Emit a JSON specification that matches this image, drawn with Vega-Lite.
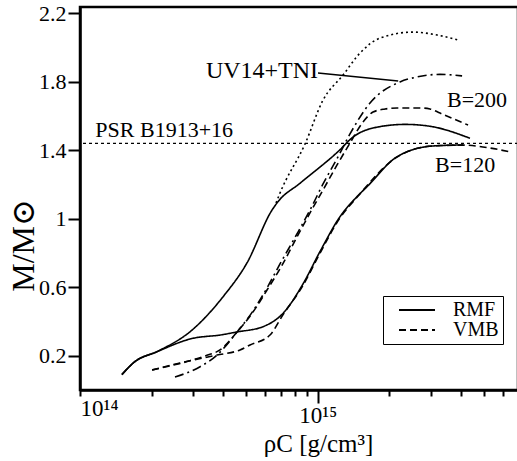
{
  "$schema": "https://vega.github.io/schema/vega-lite/v6.json",
  "width": 438,
  "height": 383,
  "autosize": {"type": "none"},
  "padding": {"left": 80, "top": 7, "right": 0, "bottom": 71},
  "config": {
    "view": {"stroke": "black", "strokeWidth": 2.5},
    "font": "Liberation Serif, DejaVu Serif, serif",
    "axis": {
      "domainColor": "black", "domainWidth": 2.5,
      "tickColor": "black", "tickWidth": 2,
      "labelColor": "black", "titleColor": "black",
      "grid": false,
      "labelFont": "Liberation Serif, DejaVu Serif, serif",
      "titleFont": "Liberation Serif, DejaVu Serif, serif",
      "titleFontWeight": "normal"
    },
    "legend": {"labelFont": "Liberation Serif, DejaVu Serif, serif"}
  },
  "datasets": {
    "curves": [
      {"curve": "RMF B=200", "model": "RMF", "rho": 1.50e14, "M": 0.09},
      {"curve": "RMF B=200", "model": "RMF", "rho": 1.70e14, "M": 0.165},
      {"curve": "RMF B=200", "model": "RMF", "rho": 2.11e14, "M": 0.224},
      {"curve": "RMF B=200", "model": "RMF", "rho": 2.96e14, "M": 0.35},
      {"curve": "RMF B=200", "model": "RMF", "rho": 4.0e14, "M": 0.545},
      {"curve": "RMF B=200", "model": "RMF", "rho": 5.04e14, "M": 0.742},
      {"curve": "RMF B=200", "model": "RMF", "rho": 6.42e14, "M": 1.05},
      {"curve": "RMF B=200", "model": "RMF", "rho": 6.81e14, "M": 1.10},
      {"curve": "RMF B=200", "model": "RMF", "rho": 8.42e14, "M": 1.207},
      {"curve": "RMF B=200", "model": "RMF", "rho": 1.217e15, "M": 1.392},
      {"curve": "RMF B=200", "model": "RMF", "rho": 1.408e15, "M": 1.477},
      {"curve": "RMF B=200", "model": "RMF", "rho": 1.829e15, "M": 1.538},
      {"curve": "RMF B=200", "model": "RMF", "rho": 2.33e15, "M": 1.551},
      {"curve": "RMF B=200", "model": "RMF", "rho": 2.968e15, "M": 1.54},
      {"curve": "RMF B=200", "model": "RMF", "rho": 4.37e15, "M": 1.47},

      {"curve": "RMF B=120", "model": "RMF", "rho": 1.50e14, "M": 0.09},
      {"curve": "RMF B=120", "model": "RMF", "rho": 1.70e14, "M": 0.165},
      {"curve": "RMF B=120", "model": "RMF", "rho": 2.11e14, "M": 0.224},
      {"curve": "RMF B=120", "model": "RMF", "rho": 2.99e14, "M": 0.302},
      {"curve": "RMF B=120", "model": "RMF", "rho": 3.88e14, "M": 0.321},
      {"curve": "RMF B=120", "model": "RMF", "rho": 4.58e14, "M": 0.339},
      {"curve": "RMF B=120", "model": "RMF", "rho": 5.89e14, "M": 0.37},
      {"curve": "RMF B=120", "model": "RMF", "rho": 7.15e14, "M": 0.448},
      {"curve": "RMF B=120", "model": "RMF", "rho": 8.67e14, "M": 0.619},
      {"curve": "RMF B=120", "model": "RMF", "rho": 1.023e15, "M": 0.809},
      {"curve": "RMF B=120", "model": "RMF", "rho": 1.241e15, "M": 1.012},
      {"curve": "RMF B=120", "model": "RMF", "rho": 1.463e15, "M": 1.129},
      {"curve": "RMF B=120", "model": "RMF", "rho": 1.612e15, "M": 1.187},
      {"curve": "RMF B=120", "model": "RMF", "rho": 2.156e15, "M": 1.362},
      {"curve": "RMF B=120", "model": "RMF", "rho": 3.056e15, "M": 1.425},
      {"curve": "RMF B=120", "model": "RMF", "rho": 4.09e15, "M": 1.431},

      {"curve": "VMB B=200", "model": "VMB", "rho": 2.01e14, "M": 0.117},
      {"curve": "VMB B=200", "model": "VMB", "rho": 2.90e14, "M": 0.171},
      {"curve": "VMB B=200", "model": "VMB", "rho": 3.36e14, "M": 0.199},
      {"curve": "VMB B=200", "model": "VMB", "rho": 3.88e14, "M": 0.234},
      {"curve": "VMB B=200", "model": "VMB", "rho": 4.58e14, "M": 0.339},
      {"curve": "VMB B=200", "model": "VMB", "rho": 5.34e14, "M": 0.455},
      {"curve": "VMB B=200", "model": "VMB", "rho": 6.12e14, "M": 0.584},
      {"curve": "VMB B=200", "model": "VMB", "rho": 7.01e14, "M": 0.718},
      {"curve": "VMB B=200", "model": "VMB", "rho": 8.18e14, "M": 0.893},
      {"curve": "VMB B=200", "model": "VMB", "rho": 9.28e14, "M": 1.034},
      {"curve": "VMB B=200", "model": "VMB", "rho": 1.053e15, "M": 1.168},
      {"curve": "VMB B=200", "model": "VMB", "rho": 1.206e15, "M": 1.314},
      {"curve": "VMB B=200", "model": "VMB", "rho": 1.367e15, "M": 1.442},
      {"curve": "VMB B=200", "model": "VMB", "rho": 1.551e15, "M": 1.565},
      {"curve": "VMB B=200", "model": "VMB", "rho": 1.709e15, "M": 1.623},
      {"curve": "VMB B=200", "model": "VMB", "rho": 1.919e15, "M": 1.641},
      {"curve": "VMB B=200", "model": "VMB", "rho": 2.156e15, "M": 1.647},
      {"curve": "VMB B=200", "model": "VMB", "rho": 2.695e15, "M": 1.647},
      {"curve": "VMB B=200", "model": "VMB", "rho": 2.968e15, "M": 1.641},
      {"curve": "VMB B=200", "model": "VMB", "rho": 3.27e15, "M": 1.617},
      {"curve": "VMB B=200", "model": "VMB", "rho": 4.29e15, "M": 1.547},

      {"curve": "VMB B=120", "model": "VMB", "rho": 2.01e14, "M": 0.117},
      {"curve": "VMB B=120", "model": "VMB", "rho": 2.90e14, "M": 0.171},
      {"curve": "VMB B=120", "model": "VMB", "rho": 3.77e14, "M": 0.204},
      {"curve": "VMB B=120", "model": "VMB", "rho": 4.71e14, "M": 0.234},
      {"curve": "VMB B=120", "model": "VMB", "rho": 5.19e14, "M": 0.263},
      {"curve": "VMB B=120", "model": "VMB", "rho": 6.30e14, "M": 0.321},
      {"curve": "VMB B=120", "model": "VMB", "rho": 7.15e14, "M": 0.44},
      {"curve": "VMB B=120", "model": "VMB", "rho": 8.67e14, "M": 0.61},
      {"curve": "VMB B=120", "model": "VMB", "rho": 1.023e15, "M": 0.80},
      {"curve": "VMB B=120", "model": "VMB", "rho": 1.241e15, "M": 1.005},
      {"curve": "VMB B=120", "model": "VMB", "rho": 1.463e15, "M": 1.125},
      {"curve": "VMB B=120", "model": "VMB", "rho": 2.156e15, "M": 1.36},
      {"curve": "VMB B=120", "model": "VMB", "rho": 3.056e15, "M": 1.425},
      {"curve": "VMB B=120", "model": "VMB", "rho": 4.09e15, "M": 1.43},
      {"curve": "VMB B=120", "model": "VMB", "rho": 5.31e15, "M": 1.413},
      {"curve": "VMB B=120", "model": "VMB", "rho": 6.44e15, "M": 1.39},

      {"curve": "UV14+TNI", "model": "UV14+TNI", "rho": 2.51e14, "M": 0.076},
      {"curve": "UV14+TNI", "model": "UV14+TNI", "rho": 3.20e14, "M": 0.136},
      {"curve": "UV14+TNI", "model": "UV14+TNI", "rho": 3.77e14, "M": 0.204},
      {"curve": "UV14+TNI", "model": "UV14+TNI", "rho": 4.58e14, "M": 0.339},
      {"curve": "UV14+TNI", "model": "UV14+TNI", "rho": 5.34e14, "M": 0.461},
      {"curve": "UV14+TNI", "model": "UV14+TNI", "rho": 6.12e14, "M": 0.596},
      {"curve": "UV14+TNI", "model": "UV14+TNI", "rho": 6.94e14, "M": 0.736},
      {"curve": "UV14+TNI", "model": "UV14+TNI", "rho": 8.18e14, "M": 0.911},
      {"curve": "UV14+TNI", "model": "UV14+TNI", "rho": 9.28e14, "M": 1.051},
      {"curve": "UV14+TNI", "model": "UV14+TNI", "rho": 1.053e15, "M": 1.203},
      {"curve": "UV14+TNI", "model": "UV14+TNI", "rho": 1.217e15, "M": 1.361},
      {"curve": "UV14+TNI", "model": "UV14+TNI", "rho": 1.367e15, "M": 1.495},
      {"curve": "UV14+TNI", "model": "UV14+TNI", "rho": 1.66e15, "M": 1.676},
      {"curve": "UV14+TNI", "model": "UV14+TNI", "rho": 2.219e15, "M": 1.799},
      {"curve": "UV14+TNI", "model": "UV14+TNI", "rho": 2.617e15, "M": 1.828},
      {"curve": "UV14+TNI", "model": "UV14+TNI", "rho": 3.27e15, "M": 1.843},
      {"curve": "UV14+TNI", "model": "UV14+TNI", "rho": 4.05e15, "M": 1.834},

      {"curve": "dotted", "model": "dotted", "rho": 6.68e14, "M": 1.092},
      {"curve": "dotted", "model": "dotted", "rho": 6.94e14, "M": 1.15},
      {"curve": "dotted", "model": "dotted", "rho": 8.84e14, "M": 1.436},
      {"curve": "dotted", "model": "dotted", "rho": 1.053e15, "M": 1.693},
      {"curve": "dotted", "model": "dotted", "rho": 1.278e15, "M": 1.839},
      {"curve": "dotted", "model": "dotted", "rho": 1.507e15, "M": 1.968},
      {"curve": "dotted", "model": "dotted", "rho": 1.829e15, "M": 2.055},
      {"curve": "dotted", "model": "dotted", "rho": 2.518e15, "M": 2.09},
      {"curve": "dotted", "model": "dotted", "rho": 3.176e15, "M": 2.073},
      {"curve": "dotted", "model": "dotted", "rho": 3.89e15, "M": 2.044}
    ]
  },
  "layer": [
    {
      "data": {"values": [{"M": 1.44}]},
      "mark": {"type": "rule", "color": "black", "strokeWidth": 1.2, "strokeDash": [3, 3]},
      "encoding": {"y": {"field": "M", "type": "quantitative"}}
    },
    {
      "data": {"name": "curves"},
      "mark": {"type": "line", "color": "black", "strokeWidth": 1.6, "interpolate": "monotone"},
      "encoding": {
        "x": {
          "field": "rho", "type": "quantitative",
          "scale": {"type": "log", "domain": [1e14, 6.96e15], "nice": false},
          "axis": {
            "title": "ρC [g/cm³]",
            "values": [1e14, 2e14, 3e14, 4e14, 5e14, 6e14, 7e14, 8e14, 9e14, 1e15, 2e15, 3e15, 4e15, 5e15, 6e15],
            "labelExpr": "datum.value == 1e14 ? '10¹⁴' : (datum.value == 1e15 ? '10¹⁵' : '')",
            "tickSize": {"condition": {"test": "datum.value == 1e15", "value": 13}, "value": 6},
            "labelPadding": 1,
            "labelFontSize": 23,
            "labelOverlap": false,
            "titleFontSize": 25,
            "titleBaseline": "alphabetic",
            "titleX": 238,
            "titleY": 61
          }
        },
        "y": {
          "field": "M", "type": "quantitative",
          "scale": {"domain": [0, 2.2365], "nice": false, "zero": false},
          "axis": {
            "title": "M/M⊙",
            "values": [0.2, 0.6, 1, 1.4, 1.8, 2.2],
            "format": ".1~f",
            "tickSize": 12,
            "labelPadding": 2,
            "labelFontSize": 22,
            "titleFontSize": 32,
            "titleX": -40,
            "titleY": 238
          }
        },
        "detail": {"field": "curve"},
        "strokeDash": {
          "field": "model", "type": "nominal",
          "scale": {"domain": ["RMF", "VMB", "UV14+TNI", "dotted"], "range": [[1, 0], [7, 4], [9, 4, 2, 4], [2, 3]]},
          "legend": {
            "values": ["RMF", "VMB"],
            "title": null,
            "orient": "none",
            "legendX": 303,
            "legendY": 289,
            "padding": 4,
            "strokeColor": "black",
            "labelFontSize": 20,
            "labelOffset": 26,
            "symbolType": "M-3,0H3",
            "symbolSize": 144,
            "symbolOffset": 20,
            "symbolStrokeWidth": 2,
            "symbolStrokeColor": "black",
            "symbolFillColor": "transparent",
            "rowPadding": -3
          }
        }
      }
    },
    {
      "data": {"values": [{"rho": 1.003e15, "M": 1.851}, {"rho": 2.18e15, "M": 1.804}]},
      "mark": {"type": "line", "color": "black", "strokeWidth": 1.4},
      "encoding": {
        "x": {"field": "rho", "type": "quantitative"},
        "y": {"field": "M", "type": "quantitative"}
      }
    },
    {
      "data": {"values": [{"rho": 1.16e14, "M": 1.44, "label": "PSR B1913+16"}]},
      "mark": {"type": "text", "align": "left", "baseline": "alphabetic", "dy": -6, "fontSize": 22, "font": "Liberation Serif, DejaVu Serif, serif", "color": "black"},
      "encoding": {
        "x": {"field": "rho", "type": "quantitative"},
        "y": {"field": "M", "type": "quantitative"},
        "text": {"field": "label"}
      }
    },
    {
      "data": {"values": [{"rho": 5.83e14, "M": 1.863, "label": "UV14+TNI"}]},
      "mark": {"type": "text", "align": "center", "baseline": "middle", "fontSize": 24, "font": "Liberation Serif, DejaVu Serif, serif", "color": "black"},
      "encoding": {
        "x": {"field": "rho", "type": "quantitative"},
        "y": {"field": "M", "type": "quantitative"},
        "text": {"field": "label"}
      }
    },
    {
      "data": {"values": [
        {"rho": 4.68e15, "M": 1.693, "label": "B=200"},
        {"rho": 4.17e15, "M": 1.314, "label": "B=120"}
      ]},
      "mark": {"type": "text", "align": "center", "baseline": "middle", "fontSize": 22, "font": "Liberation Serif, DejaVu Serif, serif", "color": "black"},
      "encoding": {
        "x": {"field": "rho", "type": "quantitative"},
        "y": {"field": "M", "type": "quantitative"},
        "text": {"field": "label"}
      }
    }
  ]
}
